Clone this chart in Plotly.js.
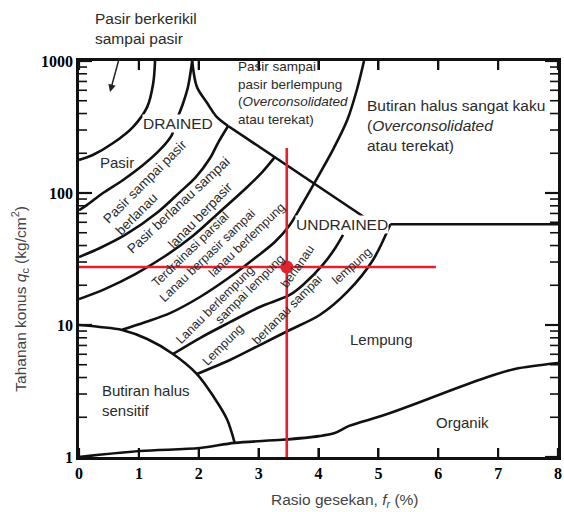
<!DOCTYPE html>
<html><head><meta charset="utf-8">
<script src="https://cdn.plot.ly/plotly-3.0.1.min.js"></script>
<style>html,body{margin:0;padding:0;background:#fff}#chart{width:564px;height:512px}</style>
</head><body><div id="chart"></div>
<script>
// ---- boundary curves: friction ratio fr (%) and cone resistance qc (kg/cm2) ----
const gravelSand_fr = [1.27, 1.24, 1.14, 0.90, 0.57, 0.23, 0];
const gravelSand_qc = [1000, 681, 449, 316, 239, 194, 178];
const sandSiltySand_fr = [1.89, 1.82, 1.74, 1.62, 1.55, 1.35, 1.07, 0.73, 0.40, 0.13, 0];
const sandSiltySand_qc = [1000, 635, 481, 345, 275, 212, 163, 125, 100, 81, 74];
const ocCurve_fr = [1.89, 1.97, 2.14, 2.30, 2.49];
const ocCurve_qc = [1000, 635, 481, 377, 322];
const drainedLine_fr = [2.49, 4.86];
const drainedLine_qc = [322, 61.4];
const undrainedLine_fr = [5.2, 8];
const undrainedLine_qc = [58, 58];
const zone3_fr = [2.49, 2.32, 2.19, 1.94, 1.69, 1.32, 0.77, 0.35, 0];
const zone3_qc = [322, 239, 184, 130, 102, 71.8, 48.1, 38.3, 32.7];
const zone4_fr = [3.27, 3.06, 2.81, 2.35, 1.90, 1.44, 0.94, 0.43, 0];
const zone4_qc = [187, 144, 111, 71.8, 47.2, 33.3, 24.3, 18.7, 15.7];
const zone5_fr = [4.76, 4.64, 4.48, 4.24, 3.94, 3.72, 3.52, 3.27, 2.94, 2.52, 2.02, 1.52, 1.10, 0.72];
const zone5_qc = [1000, 603, 357, 212, 121, 81.1, 57.3, 42.5, 32.2, 23.1, 16.3, 12.3, 10.5, 9.2];
const zone6_fr = [1.57, 2.02, 2.52, 3.02, 3.52, 3.74, 4.07, 4.28, 4.41];
const zone6_qc = [6.03, 7.97, 10.5, 13.7, 16.9, 20.1, 28.5, 38.3, 48.1];
const zone7_fr = [1.97, 2.52, 3.02, 3.52, 4.02, 4.48, 4.91, 5.2];
const zone7_qc = [4.25, 5.43, 7.05, 9.16, 11.9, 17.8, 31.1, 58];
const sensitive_fr = [0, 0.35, 0.72, 1.14, 1.57, 1.97, 2.24, 2.47, 2.60];
const sensitive_qc = [10, 9.66, 9.17, 7.83, 6.03, 4.25, 2.90, 1.94, 1.28];
const organic_fr = [0, 1.02, 2.02, 2.60, 3.39, 4.01, 4.27, 4.51, 5.06, 5.61, 6.18, 6.73, 7.28, 8.0];
const organic_qc = [1.0, 1.11, 1.17, 1.28, 1.35, 1.44, 1.52, 1.72, 2.05, 2.52, 3.16, 3.90, 4.64, 5.15];
// ---- reading marked in red ----
const point_fr = [3.47];
const point_qc = [27.5];
const vLine_fr = [3.47, 3.47];
const vLine_qc = [1, 219];
const hLine_fr = [0, 5.96];
const hLine_qc = [27.5, 27.5];
// ---- tick labels ----
const xTicks = [0, 1, 2, 3, 4, 5, 6, 7, 8];
const yTicks = [1, 10, 100, 1000];
const yTickText = ['1', '10', '100', '1000'];
const yMinorTicks = [2, 3, 4, 5, 6, 7, 8, 9, 20, 30, 40, 50, 60, 70, 80, 90, 200, 300, 400, 500, 600, 700, 800, 900];

const curveStyle = {color: '#111', width: 2.6, shape: 'spline', smoothing: 0.9};
function curve(x, y, spline) {
  const line = Object.assign({}, curveStyle);
  if (!spline) line.shape = 'linear';
  return {x: x, y: y, mode: 'lines', line: line, hoverinfo: 'skip', showlegend: false};
}
const red = '#e3202b';
const traces = [
  curve(gravelSand_fr, gravelSand_qc, true),
  curve(sandSiltySand_fr, sandSiltySand_qc, true),
  curve(ocCurve_fr, ocCurve_qc, true),
  curve(drainedLine_fr, drainedLine_qc, false),
  curve(undrainedLine_fr, undrainedLine_qc, false),
  curve(zone3_fr, zone3_qc, true),
  curve(zone4_fr, zone4_qc, true),
  curve(zone5_fr, zone5_qc, true),
  curve(zone6_fr, zone6_qc, true),
  curve(zone7_fr, zone7_qc, true),
  curve(sensitive_fr, sensitive_qc, true),
  curve(organic_fr, organic_qc, true),
  {x: vLine_fr, y: vLine_qc, mode: 'lines', line: {color: red, width: 2.6}, showlegend: false, hoverinfo: 'skip'},
  {x: hLine_fr, y: hLine_qc, mode: 'lines', line: {color: red, width: 2.6}, showlegend: false, hoverinfo: 'skip'},
  {x: point_fr, y: point_qc, mode: 'markers', marker: {color: red, size: 13}, showlegend: false, hoverinfo: 'skip'}
];

const F = 'Liberation Sans, Arial, sans-serif';
const txt = '#2a2a2a';
function lab(x, y, text, size, opts) {
  return Object.assign({x: x, y: Math.log10(y), xref: 'x', yref: 'y', text: text, showarrow: false,
    font: {family: F, size: size, color: txt}, xanchor: 'center', yanchor: 'middle'}, opts || {});
}
const annotations = [
  {xref: 'paper', yref: 'paper', x: 0.029, y: 1.083, xanchor: 'left', yanchor: 'middle', align: 'left',
   text: 'Pasir berkerikil<br>sampai pasir', showarrow: false, font: {family: F, size: 15.5, color: txt}},
  {x: 0.518, y: Math.log10(582), xref: 'x', yref: 'y', text: ' ', showarrow: true, ax: 12, ay: -44,
   arrowhead: 2, arrowsize: 1, arrowwidth: 1.5, arrowcolor: '#222'},
  lab(2.622, 577, 'Pasir sampai<br>pasir berlempung<br>(<i>Overconsolidated</i><br>atau terekat)', 13.5, {xanchor: 'left', align: 'left'}),
  lab(4.777, 327, 'Butiran halus sangat kaku<br>(<i>Overconsolidated</i><br>atau terekat)', 15.5, {xanchor: 'left', align: 'left'}),
  lab(1.653, 339, 'DRAINED', 15.5, {bgcolor: '#fff', borderpad: 0}),
  lab(0.635, 169, 'Pasir', 15),
  lab(4.392, 57.3, 'UNDRAINED', 15.5, {bgcolor: '#fff', borderpad: 0}),
  lab(5.044, 7.83, 'Lempung', 15),
  lab(6.413, 1.84, 'Organik', 15),
  lab(0.351, 2.68, 'Butiran halus<br>sensitif', 15, {xanchor: 'left', align: 'left'}),
  lab(1.102, 123, 'Pasir sampai pasir', 13.5, {textangle: -45}),
  lab(0.952, 69.3, 'berlanau', 13.5, {textangle: -45}),
  lab(1.653, 81.1, 'Pasir berlanau sampai', 13.5, {textangle: -43}),
  lab(2.021, 68.1, 'lanau berpasir', 13.5, {textangle: -46}),
  lab(1.854, 37.0, 'Terdrainasi parsial', 12.5, {textangle: -44}),
  lab(2.138, 33.3, 'Lanau berpasir sampai', 12.5, {textangle: -44}),
  lab(2.806, 44.0, 'lanau berlempung', 12.5, {textangle: -44}),
  lab(2.271, 14.2, 'Lanau berlempung', 12.5, {textangle: -45}),
  lab(2.856, 18.7, 'sampai lempung', 12.5, {textangle: -45}),
  lab(3.657, 28.0, 'berlanau', 12.5, {textangle: -55}),
  lab(2.405, 7.05, 'Lempung', 12.5, {textangle: -45}),
  lab(3.474, 13.0, 'berlanau sampai', 12.5, {textangle: -45}),
  lab(4.559, 28.0, 'lempung', 12.5, {textangle: -42}),
  {xref: 'paper', yref: 'paper', x: 0.555, y: -0.111, xanchor: 'center', yanchor: 'middle', showarrow: false,
   text: 'Rasio gesekan, <i>f<sub>r</sub></i> (%)', font: {family: F, size: 15.5, color: '#444'}},
  {xref: 'paper', yref: 'paper', x: -0.123, y: 0.40, xanchor: 'center', yanchor: 'middle', showarrow: false, textangle: -90,
   text: 'Tahanan konus <i>q</i><sub>c</sub> (kg/cm<sup>2</sup>)', font: {family: F, size: 15.5, color: '#444'}}
];

// tick marks drawn inside the frame on all four sides (pixel-sized shapes anchored to the axes)
const tickColor = '#111';
const shapes = [];
xTicks.forEach(function (v) {
  shapes.push({type: 'line', layer: 'above', xref: 'x', x0: v, x1: v, yref: 'paper', ysizemode: 'pixel',
    yanchor: 0, y0: 0, y1: 9, line: {color: tickColor, width: 2.2}});
  shapes.push({type: 'line', layer: 'above', xref: 'x', x0: v, x1: v, yref: 'paper', ysizemode: 'pixel',
    yanchor: 1, y0: 0, y1: -9, line: {color: tickColor, width: 2.2}});
});
function yTick(v, len, w) {
  const py = Math.log10(v) / 3;
  shapes.push({type: 'line', layer: 'above', yref: 'paper', y0: py, y1: py, xref: 'paper', xsizemode: 'pixel',
    xanchor: 0, x0: 0, x1: len, line: {color: tickColor, width: w}});
  shapes.push({type: 'line', layer: 'above', yref: 'paper', y0: py, y1: py, xref: 'paper', xsizemode: 'pixel',
    xanchor: 1, x0: 0, x1: -len, line: {color: tickColor, width: w}});
}
yTicks.forEach(function (v) { yTick(v, 13, 2.2); });
yMinorTicks.forEach(function (v) { yTick(v, 8, 1.6); });

const tickFont = {family: 'Liberation Serif, Times New Roman, serif', size: 16, color: '#000', weight: 'bold'};
const layout = {
  width: 564, height: 512,
  margin: {l: 79, r: 6, t: 61, b: 55},
  showlegend: false,
  xaxis: {range: [0, 8], tickmode: 'array', tickvals: xTicks, ticks: 'inside', ticklen: 9, tickwidth: 2.2,
    tickcolor: tickColor, showline: true, linewidth: 2.5, linecolor: '#111', mirror: 'ticks', showgrid: false,
    zeroline: false, tickfont: tickFont},
  yaxis: {type: 'log', range: [0, 3], tickmode: 'array', tickvals: yTicks, ticktext: yTickText, ticks: 'inside',
    ticklen: 13, tickwidth: 2.2, tickcolor: tickColor, showline: true, linewidth: 2.5, linecolor: '#111',
    mirror: 'ticks', showgrid: false, zeroline: false, tickfont: tickFont},
  shapes: shapes,
  annotations: annotations
};
Plotly.newPlot('chart', traces, layout, {displayModeBar: false});
</script></body></html>
